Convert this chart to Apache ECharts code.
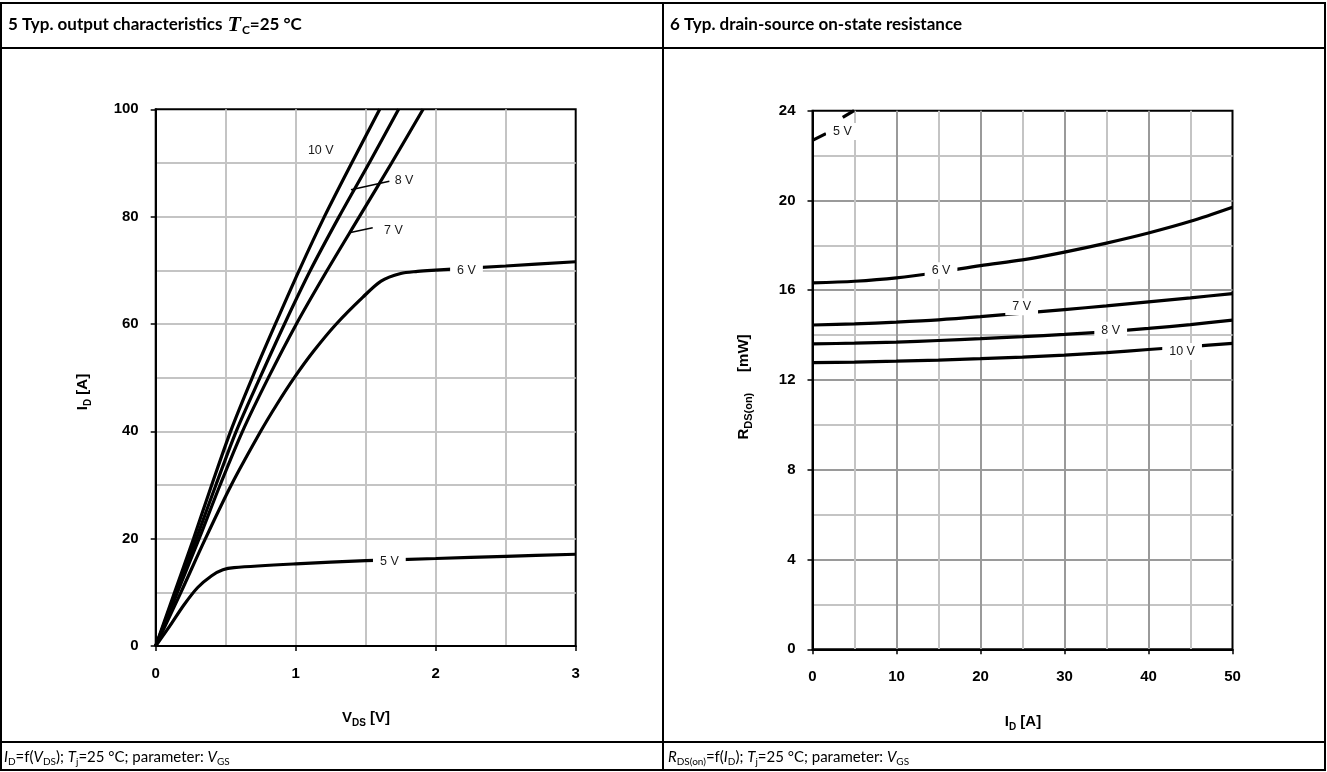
<!DOCTYPE html>
<html><head><meta charset="utf-8">
<script src="https://cdn.jsdelivr.net/npm/echarts@6/dist/echarts.min.js"></script>
<style>html,body{margin:0;padding:0;background:#fff}#c{width:1327px;height:772px}</style>
</head><body><div id="c"></div>
<script>
// ---------- Chart 5: output characteristics I_D = f(V_DS) ----------
const vgs10 = [[0,0],[0.135,10],[0.27,20],[0.40,30],[0.535,40],[0.69,50],[0.855,60],[1.025,70],[1.205,80],[1.4,90],[1.6,100]];
const vgs8  = [[0,0],[0.145,10],[0.29,20],[0.43,30],[0.575,40],[0.745,50],[0.92,60],[1.105,70],[1.31,80],[1.525,90],[1.735,100]];
const vgs7  = [[0,0],[0.155,10],[0.31,20],[0.46,30],[0.62,40],[0.805,50],[1.005,60],[1.225,70],[1.455,80],[1.685,90],[1.91,100]];
const vgs6  = [[0,0],[0.18,10],[0.355,20],[0.54,30],[0.75,40],[0.865,45],[0.99,50],[1.13,55],[1.29,60],[1.48,65],[1.61,68],[1.75,69.4],[1.87,69.8],[1.97,70.0],[2.5,70.8],[3,71.6]];
const vgs5  = [[0,0],[0.1,3.7],[0.2,7.6],[0.3,10.9],[0.4,13.1],[0.48,14.2],[0.56,14.6],[1.0,15.3],[1.5,15.9],[2,16.3],[2.5,16.7],[3,17.1]];
const leftFreeLabels = ['10 V','8 V','7 V'];
const leftFreeLabelAt = [[1.179,92.4],[1.774,86.8],[1.698,77.5]];
const leftLineLabels = ['6 V','5 V'];
const leftLineLabelAt = [[2.22,70.0],[1.669,15.8]];
const leader8 = [[1.395,85.0],[1.669,86.6]];
const leader7 = [[1.383,77.0],[1.55,77.95]];
const vdsTicks = [0,1,2,3];
const idTicks = [0,20,40,60,80,100];

// ---------- Chart 6: R_DS(on) = f(I_D) ----------
const r5a = [[0,22.68],[1.6,22.98]];
const r5b = [[3.6,23.7],[4.95,24.0]];
const r6  = [[0,16.33],[5,16.4],[10,16.55],[15,16.8],[20,17.1],[25,17.35],[30,17.7],[35,18.1],[40,18.55],[45,19.07],[50,19.7]];
const r7  = [[0,14.45],[5,14.5],[10,14.58],[15,14.68],[20,14.82],[25,14.98],[30,15.14],[35,15.3],[40,15.48],[45,15.66],[50,15.85]];
const r8  = [[0,13.61],[5,13.64],[10,13.69],[15,13.76],[20,13.84],[25,13.93],[30,14.03],[35,14.15],[40,14.3],[45,14.47],[50,14.67]];
const r10 = [[0,12.77],[5,12.8],[10,12.84],[15,12.89],[20,12.95],[25,13.02],[30,13.11],[35,13.22],[40,13.36],[45,13.49],[50,13.63]];
const rightLineLabels = ['5 V','6 V','7 V','8 V','10 V'];
const rightLineLabelAt = [[3.57,23.07],[15.3,16.87],[24.9,15.26],[35.5,14.22],[44.0,13.27]];
const idTicksR = [0,10,20,30,40,50];
const rdsTicks = [0,4,8,12,16,20,24];

const chart = echarts.init(document.getElementById('c'), null, {renderer:'canvas'});

const SANS = 'Liberation Sans';
const TXT = 'Lato';
const minorGrey = '#c4c4c4';
const majorGrey = '#9a9a9a';

function valueAxis(gi, ticks, gridColor, minorColor, isX) {
  return {
    type:'value', gridIndex:gi,
    min: ticks[0], max: ticks[ticks.length-1], interval: ticks[1]-ticks[0],
    axisLine:{show:true, onZero:false, lineStyle:{color:'#000', width:2}},
    axisTick:{show:true, length:5, lineStyle:{color:'#000', width:1.5}},
    axisLabel:{fontFamily:SANS, fontWeight:'bold', fontSize:15, color:'#000', margin: isX ? 20 : 17},
    splitLine:{show:true, showMinLine:false, showMaxLine:false, lineStyle:{color:gridColor, width:2}},
    minorTick:{show:false, splitNumber:2},
    minorSplitLine:{show:true, lineStyle:{color:minorColor, width:2}}
  };
}

function curve(data, xi) {
  return {type:'line', xAxisIndex:xi, yAxisIndex:xi, data:data, showSymbol:false, symbol:'none',
    smooth:0.3, lineStyle:{color:'#000', width:3.2}, z:3, silent:true, clip:true};
}
function leader(data) {
  return {type:'line', xAxisIndex:0, yAxisIndex:0, data:data, showSymbol:false, symbol:'none',
    lineStyle:{color:'#000', width:1.5}, z:3, silent:true};
}
function labels(names, pos, xi, boxed) {
  return {type:'scatter', xAxisIndex:xi, yAxisIndex:xi, symbol:'circle', symbolSize:0, z:5, silent:true,
    itemStyle:{color:'#000', opacity:1},
    data: names.map((n,i)=>({name:n, value:pos[i]})),
    label:{show:true, position:'inside', formatter:'{b}', fontFamily:SANS, fontSize:12.5, color:'#1a1a1a',
      opacity:1, backgroundColor: boxed ? '#fff' : 'transparent', padding: boxed ? [2,7] : 0}
  };
}

const subRich = (base, sub) => ({
  b:{fontFamily:SANS, fontWeight:'bold', fontSize:base, lineHeight:base+5, color:'#000'},
  s:{fontFamily:SANS, fontWeight:'bold', fontSize:sub, lineHeight:sub, verticalAlign:'bottom', color:'#000'}
});

const footRich = {
  n:{fontFamily:TXT, fontSize:15, lineHeight:20, color:'#000'},
  i:{fontFamily:TXT, fontStyle:'italic', fontSize:15, lineHeight:20, color:'#000'},
  s:{fontFamily:TXT, fontSize:10, lineHeight:10, verticalAlign:'bottom', color:'#000'}
};
const titleRich = {
  b:{fontFamily:TXT, fontWeight:'bold', fontSize:17, lineHeight:22, color:'#000'},
  t:{fontFamily:'Liberation Serif', fontStyle:'italic', fontWeight:'bold', fontSize:22, lineHeight:22, color:'#000', padding:[0,1,0,5]},
  s:{fontFamily:TXT, fontWeight:'bold', fontSize:12, lineHeight:12, verticalAlign:'bottom', color:'#000'}
};

function txt(x, y, text, rich, rot, align) {
  return {type:'text', x:x, y:y, rotation:rot||0, z:100,
    style:{text:text, rich:rich, align:align||'left', verticalAlign:'middle'}};
}
function hline(x1,x2,y){return {type:'line', z:100, shape:{x1:x1,y1:y,x2:x2,y2:y}, style:{stroke:'#000', lineWidth:2}};}
function vline(x,y1,y2){return {type:'line', z:100, shape:{x1:x,y1:y1,x2:x,y2:y2}, style:{stroke:'#000', lineWidth:2}};}

const option = {
  animation:false,
  backgroundColor:'#fff',
  grid:[
    {left:155.7, top:109.3, width:420, height:536.7, show:true, borderColor:'#000', borderWidth:2, backgroundColor:'transparent'},
    {left:812.5, top:110.7, width:420, height:538.6, show:true, borderColor:'#000', borderWidth:2, backgroundColor:'transparent'}
  ],
  xAxis:[
    valueAxis(0, vdsTicks, minorGrey, minorGrey, true),
    valueAxis(1, idTicksR, majorGrey, minorGrey, true)
  ],
  yAxis:[
    valueAxis(0, idTicks, minorGrey, minorGrey, false),
    valueAxis(1, rdsTicks, majorGrey, minorGrey, false)
  ],
  series:[
    curve(vgs10,0), curve(vgs8,0), curve(vgs7,0), curve(vgs6,0), curve(vgs5,0),
    leader(leader8), leader(leader7),
    labels(leftFreeLabels, leftFreeLabelAt, 0, false),
    labels(leftLineLabels, leftLineLabelAt, 0, true),
    curve(r5a,1), curve(r5b,1), curve(r6,1), curve(r7,1), curve(r8,1), curve(r10,1),
    labels(rightLineLabels, rightLineLabelAt, 1, true)
  ],
  graphic:[
    {type:'rect', z:100, shape:{x:1, y:3, width:1324, height:767}, style:{fill:null, stroke:'#000', lineWidth:2}},
    hline(1,1325,48), hline(1,1325,742), vline(663,3,770),
    txt(8, 25, '{b|5 Typ. output characteristics}{t|T}{s|C}{b|=25 °C}', titleRich),
    txt(670, 25, '{b|6 Typ. drain-source on-state resistance}', titleRich),
    txt(4, 757, '{i|I}{s|D}{n|=f(}{i|V}{s|DS}{n|); }{i|T}{s|j}{n|=25 °C; parameter: }{i|V}{s|GS}', footRich),
    txt(668, 757, '{i|R}{s|DS(on)}{n|=f(}{i|I}{s|D}{n|); }{i|T}{s|j}{n|=25 °C; parameter: }{i|V}{s|GS}', footRich),
    txt(366, 718, '{b|V}{s|DS}{b| [V]}', subRich(15,10), 0, 'center'),
    txt(1023, 722, '{b|I}{s|D}{b| [A]}', subRich(15,10), 0, 'center'),
    txt(83, 392, '{b|I}{s|D}{b| [A]}', subRich(15,10), Math.PI/2, 'center'),
    txt(744, 387, '{b|R}{s|DS(on)}{b|     [mW]}', subRich(15,11), Math.PI/2, 'center')
  ]
};
chart.setOption(option);
</script></body></html>
